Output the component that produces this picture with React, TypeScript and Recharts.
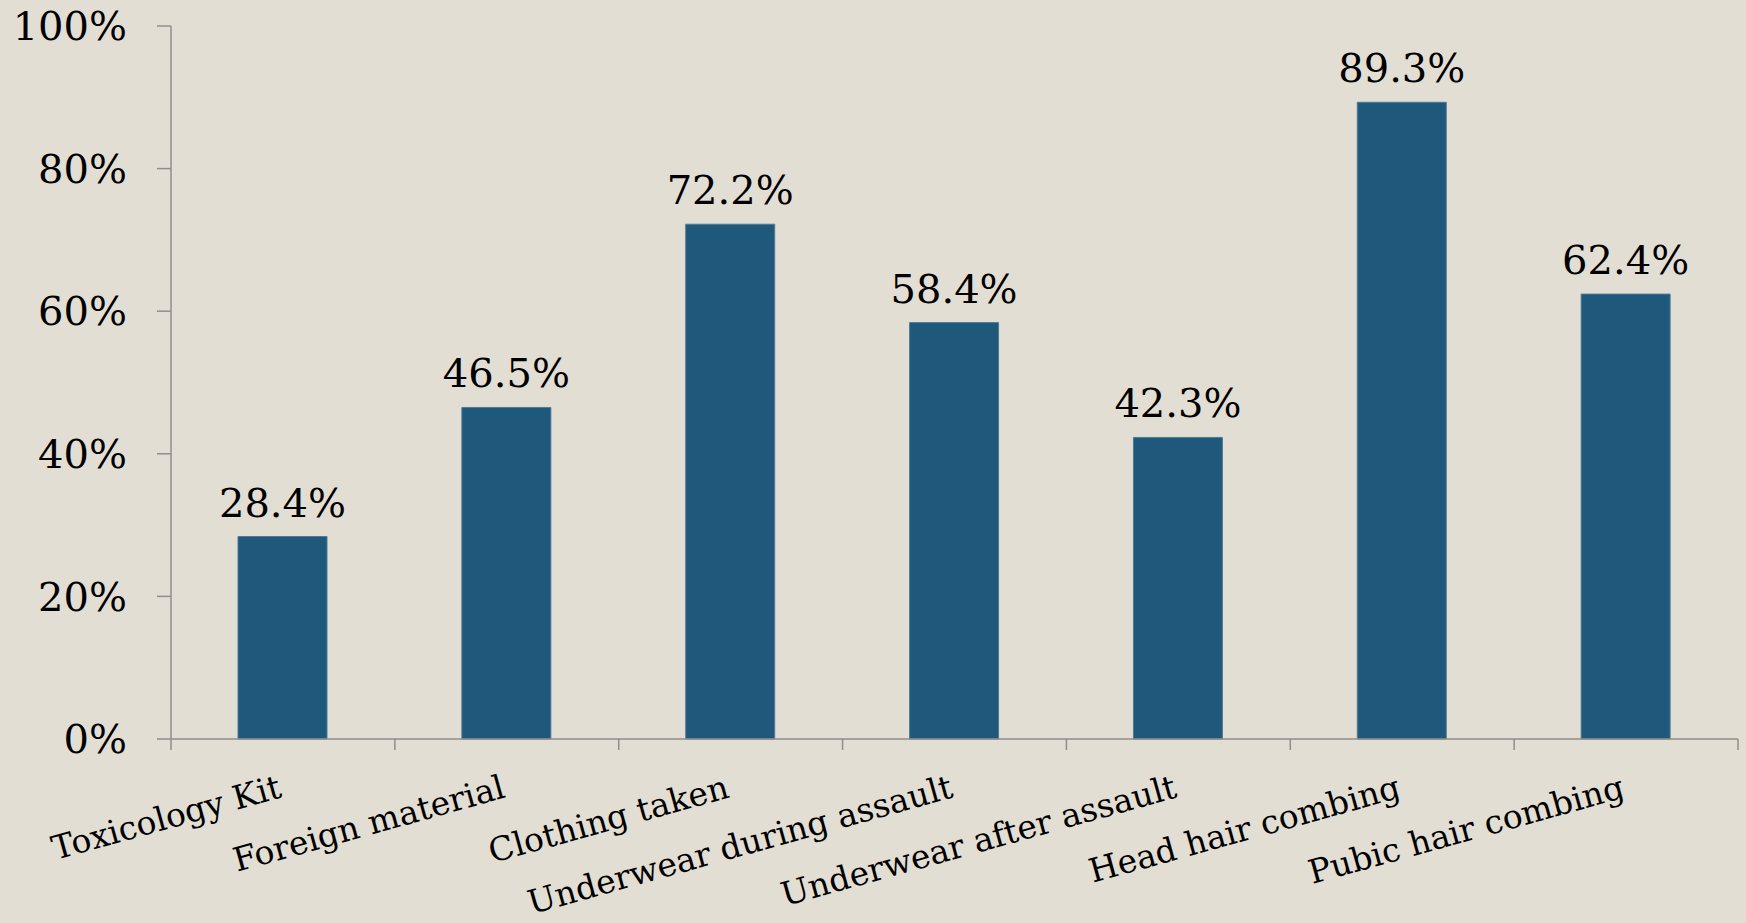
import React from "react";
import { BarChart, Bar, XAxis, YAxis, LabelList } from "recharts";

const categories = [
  "Toxicology Kit",
  "Foreign material",
  "Clothing taken",
  "Underwear during assault",
  "Underwear after assault",
  "Head hair combing",
  "Pubic hair combing",
];
const values = [28.4, 46.5, 72.2, 58.4, 42.3, 89.3, 62.4];
const yTicks = [0, 20, 40, 60, 80, 100];
const boundaryTicks = [0, 1, 2, 3, 4, 5, 6, 7];

const data = categories.map((c, i) => ({ name: c, value: values[i], pos: i + 0.5 }));

const FONT = "'DejaVu Serif', serif";
const AXIS = "#8e8e8e";

const CatTick = (props: any) => {
  const { x, y, payload } = props;
  return (
    <g transform={`translate(${x},${y + 57})`}>
      <text
        textAnchor="end"
        transform="rotate(-15.5)"
        fontFamily={FONT}
        fontSize={33}
        fill="#000"
      >
        {payload.value}
      </text>
    </g>
  );
};

const EmptyTick = () => <g />;

export default function App() {
  return (
    <div
      style={{
        position: "absolute",
        left: 0,
        top: 0,
        width: 1746,
        height: 923,
        background: "#E3DED3",
      }}
    >
      <BarChart
        width={1746}
        height={923}
        data={data}
        margin={{ top: 26, right: 8, bottom: 0, left: 0 }}
      >
        <XAxis
          xAxisId="b"
          type="number"
          dataKey="pos"
          domain={[0, categories.length]}
          ticks={boundaryTicks}
          tick={EmptyTick}
          tickSize={11}
          height={1}
          axisLine={{ stroke: AXIS, strokeWidth: 1.5 }}
          tickLine={{ stroke: AXIS, strokeWidth: 1.5 }}
          allowDataOverflow
        />
        <XAxis
          xAxisId="c"
          dataKey="name"
          type="category"
          interval={0}
          axisLine={false}
          tickLine={false}
          tickSize={0}
          tickMargin={0}
          height={183}
          tick={<CatTick />}
        />
        <YAxis
          domain={[0, 100]}
          ticks={yTicks}
          width={171}
          tickSize={14}
          tickMargin={30}
          tickFormatter={(v: number) => `${v}%`}
          tick={{ fontFamily: FONT, fontSize: 40, fill: "#000" }}
          axisLine={{ stroke: AXIS, strokeWidth: 1.5 }}
          tickLine={{ stroke: AXIS, strokeWidth: 1.5 }}
        />
        <Bar
          xAxisId="c"
          dataKey="value"
          fill="#1E597B"
          stroke="#4F7B98"
          strokeWidth={1}
          barSize={89}
          isAnimationActive={false}
        >
          <LabelList
            dataKey="value"
            position="top"
            offset={20}
            formatter={(v: any) => `${Number(v).toFixed(1)}%`}
            style={{ fontFamily: FONT, fontSize: 40, fill: "#000" }}
          />
        </Bar>
      </BarChart>
    </div>
  );
}
